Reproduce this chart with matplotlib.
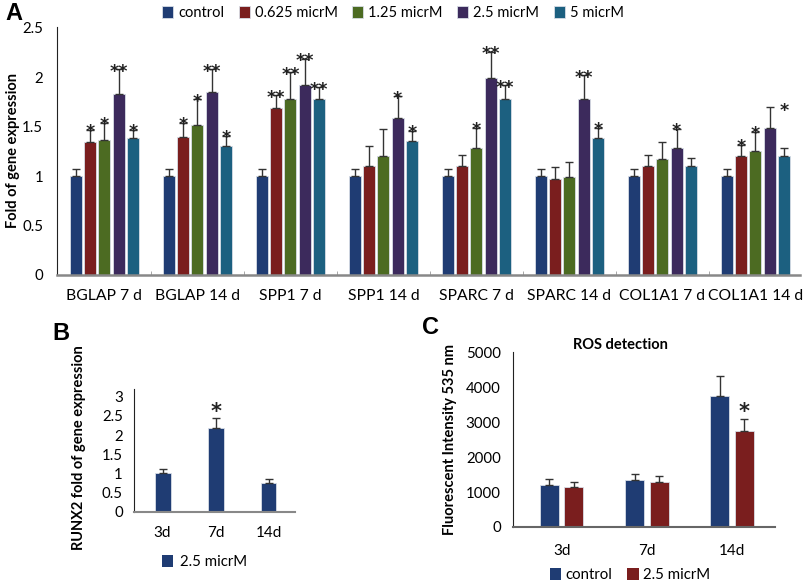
import matplotlib
matplotlib.use("Agg")
import matplotlib.pyplot as plt
import numpy as np
from matplotlib.patches import Patch

plt.rcParams['font.family'] = ['Lato', 'DejaVu Sans']

# ---------------- Panel A data ----------------
genes = ["BGLAP 7 d", "BGLAP 14 d", "SPP1 7 d", "SPP1 14 d",
         "SPARC 7 d", "SPARC 14 d", "COL1A1 7 d", "COL1A1 14 d"]
series_a = ["control", "0.625 micrM", "1.25 micrM", "2.5 micrM", "5 micrM"]
control = [1.0, 1.0, 1.0, 1.0, 1.0, 1.0, 1.0, 1.0]
c0625 = [1.35, 1.40, 1.69, 1.10, 1.10, 0.97, 1.10, 1.20]
c125 = [1.37, 1.52, 1.785, 1.20, 1.29, 0.99, 1.17, 1.26]
c25 = [1.835, 1.855, 1.92, 1.59, 1.99, 1.785, 1.29, 1.49]
c5 = [1.39, 1.31, 1.785, 1.36, 1.785, 1.39, 1.10, 1.20]
control_err = [0.07, 0.07, 0.07, 0.07, 0.07, 0.07, 0.07, 0.07]
c0625_err = [0.12, 0.14, 0.13, 0.21, 0.11, 0.12, 0.11, 0.12]
c125_err = [0.17, 0.26, 0.265, 0.275, 0.20, 0.15, 0.18, 0.19]
c25_err = [0.245, 0.225, 0.27, 0.22, 0.27, 0.235, 0.19, 0.21]
c5_err = [0.08, 0.10, 0.115, 0.10, 0.135, 0.10, 0.08, 0.09]
stars_a = [
    ["", "*", "*", "**", "*"],
    ["", "*", "*", "**", "*"],
    ["", "**", "**", "**", "**"],
    ["", "", "", "*", "*"],
    ["", "", "*", "**", "**"],
    ["", "", "", "**", "*"],
    ["", "", "", "*", ""],
    ["", "*", "*", "", "*"],
]

# ---------------- Panel B data ----------------
days = ["3d", "7d", "14d"]
runx2 = [1.0, 2.18, 0.75]
runx2_err = [0.11, 0.27, 0.10]
stars_b = ["", "*", ""]

# ---------------- Panel C data ----------------
ros_control = [1210, 1335, 3755]
ros_control_err = [173, 192, 576]
ros_treated = [1161, 1277, 2746]
ros_treated_err = [144, 173, 338]
stars_c = ["", "", "*"]

colors_a = ["#1f3c73", "#7a1e1e", "#4c6b22", "#3c2a5c", "#1c6080"]
navy = "#1f3c73"
maroon = "#7a1e1e"
STAR_FONT = ["DejaVu Sans"]

fig = plt.figure(figsize=(8.09, 5.82), dpi=100)

# ================= Panel A =================
axA = fig.add_axes([57/809, 1-275/582, (800-57)/809, (275-27)/582])
x = np.arange(len(genes))
slot = 0.154
bw = 0.13
all_vals = [control, c0625, c125, c25, c5]
all_errs = [control_err, c0625_err, c125_err, c25_err, c5_err]
for i, (vals, errs, col, name) in enumerate(zip(all_vals, all_errs, colors_a, series_a)):
    pos = x + (i - 2) * slot
    axA.bar(pos, vals, width=bw, color=col, edgecolor="#d8dde6", linewidth=0.6,
            label=name, zorder=2)
    axA.errorbar(pos, vals, yerr=[np.zeros(len(vals)), errs], fmt="none",
                 ecolor="#333333", elinewidth=1.0, capsize=3, capthick=1.0, zorder=3)
    for j in range(len(genes)):
        s = stars_a[j][i]
        if s:
            ytop = vals[j] + errs[j]
            if j == 7 and i == 4:
                ytop = 1.69
            axA.annotate(s, (pos[j], ytop), xytext=(0, -5.5), textcoords="offset points",
                         ha="center", va="baseline", fontsize=12.5, fontweight="bold",
                         color="#222222", zorder=4, family=STAR_FONT)
axA.set_xlim(-0.51, 7.48)
axA.set_ylim(0, 2.51)
axA.set_yticks([0, 0.5, 1, 1.5, 2, 2.5])
axA.set_yticklabels(["0", "0.5", "1", "1.5", "2", "2.5"])
axA.set_xticks(x)
axA.set_xticklabels(genes, fontsize=11.3)
axA.set_xticks(np.arange(0.5, 7.5, 1), minor=True)
axA.tick_params(axis="x", which="major", length=0, pad=10)
axA.tick_params(axis="x", which="minor", length=3, color="#999999", direction="in")
axA.tick_params(axis="y", length=0, labelsize=10.8, pad=10)
for sp in ["top", "right"]:
    axA.spines[sp].set_visible(False)
axA.spines["left"].set_color("#222222")
axA.spines["bottom"].set_color("#888888")
axA.spines["bottom"].set_linewidth(1.8)
axA.set_ylabel("Fold of gene expression", fontsize=10.5, fontweight="bold")
axA.yaxis.set_label_coords(-0.05, 0.5)
handles = [Patch(facecolor=c, edgecolor="#d8dde6", linewidth=0.6) for c in colors_a]
fig.legend(handles, series_a, loc="center", bbox_to_anchor=(393/809, 1-13/582),
           ncol=5, frameon=False, fontsize=10.5, handlelength=0.75, handleheight=0.9,
           handletextpad=0.35, columnspacing=1.0)
fig.text(5/809, 1-13/582, "A", fontsize=17, fontweight="bold", va="center", ha="left",
         family=["Liberation Sans", "DejaVu Sans"])

# ================= Panel B =================
axB = fig.add_axes([134/809, 1-511.7/582, (295-134)/809, (511.7-389)/582])
xb = np.arange(len(days))
axB.bar(xb, runx2, width=0.30, color=navy, edgecolor="#d8dde6", linewidth=0.6, zorder=2)
axB.errorbar(xb, runx2, yerr=[np.zeros(3), runx2_err], fmt="none", ecolor="#333333",
             elinewidth=1.0, capsize=3, capthick=1.0, zorder=3)
for j, s in enumerate(stars_b):
    if s:
        axB.annotate(s, (xb[j], runx2[j] + runx2_err[j]), xytext=(0, 0),
                     textcoords="offset points", ha="center", va="baseline",
                     fontsize=15, fontweight="bold", color="#222222", family=STAR_FONT)
axB.set_xlim(-0.54, 2.5)
axB.set_ylim(0, 3.2)
axB.set_yticks([0, 0.5, 1, 1.5, 2, 2.5, 3])
axB.set_yticklabels(["0", "0.5", "1", "1.5", "2", "2.5", "3"])
axB.set_xticks(xb)
axB.set_xticklabels(days, fontsize=11)
axB.tick_params(axis="x", length=0, pad=10)
axB.tick_params(axis="y", length=0, labelsize=10.8, pad=8)
for sp in ["top", "right"]:
    axB.spines[sp].set_visible(False)
axB.spines["left"].set_color("#222222")
axB.spines["bottom"].set_color("#888888")
axB.spines["bottom"].set_linewidth(1.5)
axB.set_ylabel("RUNX2 fold of gene expression", fontsize=10.5, fontweight="bold")
axB.yaxis.set_label_coords(-0.30, 0.52)
fig.legend([Patch(facecolor=navy)], ["2.5 micrM"], loc="center",
           bbox_to_anchor=(205/809, 1-562/582), frameon=False, fontsize=10.8,
           handlelength=0.7, handleheight=0.9, handletextpad=0.5)
fig.text(52/809, 1-333/582, "B", fontsize=17, fontweight="bold", va="center", ha="left",
         family=["Liberation Sans", "DejaVu Sans"])

# ================= Panel C =================
axC = fig.add_axes([513.3/809, 1-527/582, (775-513.3)/809, (527-352)/582])
xc = np.arange(len(days))
off = 0.1436
bwc = 0.223
axC.bar(xc - off, ros_control, width=bwc, color=navy, edgecolor="#d8dde6", linewidth=0.6,
        label="control", zorder=2)
axC.bar(xc + off, ros_treated, width=bwc, color=maroon, edgecolor="#d8dde6", linewidth=0.6,
        label="2.5 micrM", zorder=2)
axC.errorbar(xc - off, ros_control, yerr=[np.zeros(3), ros_control_err], fmt="none",
             ecolor="#333333", elinewidth=1.0, capsize=3, capthick=1.0, zorder=3)
axC.errorbar(xc + off, ros_treated, yerr=[np.zeros(3), ros_treated_err], fmt="none",
             ecolor="#333333", elinewidth=1.0, capsize=3, capthick=1.0, zorder=3)
for j, s in enumerate(stars_c):
    if s:
        axC.annotate(s, (xc[j] + off, ros_treated[j] + ros_treated_err[j]), xytext=(0, 1),
                     textcoords="offset points", ha="center", va="baseline",
                     fontsize=15, fontweight="bold", color="#222222", family=STAR_FONT)
axC.set_xlim(-0.567, 2.504)
axC.set_ylim(0, 5020)
axC.set_yticks([0, 1000, 2000, 3000, 4000, 5000])
axC.set_xticks(xc)
axC.set_xticklabels(days, fontsize=11)
axC.tick_params(axis="x", length=0, pad=12)
axC.tick_params(axis="y", length=0, labelsize=10.8, pad=9)
for sp in ["top", "right"]:
    axC.spines[sp].set_visible(False)
axC.spines["left"].set_color("#222222")
axC.spines["bottom"].set_color("#666666")
axC.spines["bottom"].set_linewidth(1.5)
axC.set_ylabel("Fluorescent Intensity 535 nm", fontsize=10.5, fontweight="bold", labelpad=6)
axC.set_title("ROS detection", fontsize=10.5, fontweight="bold", pad=-6, x=0.41)
hc = [Patch(facecolor=navy), Patch(facecolor=maroon)]
fig.legend(hc, ["control", "2.5 micrM"], loc="center", bbox_to_anchor=(630/809, 1-575/582),
           ncol=2, frameon=False, fontsize=10.8, handlelength=0.75, handleheight=0.9,
           handletextpad=0.3, columnspacing=1.0)
fig.text(422/809, 1-327/582, "C", fontsize=17, fontweight="bold", va="center", ha="left",
         family=["Liberation Sans", "DejaVu Sans"])

fig.savefig("out.png", dpi=100)
